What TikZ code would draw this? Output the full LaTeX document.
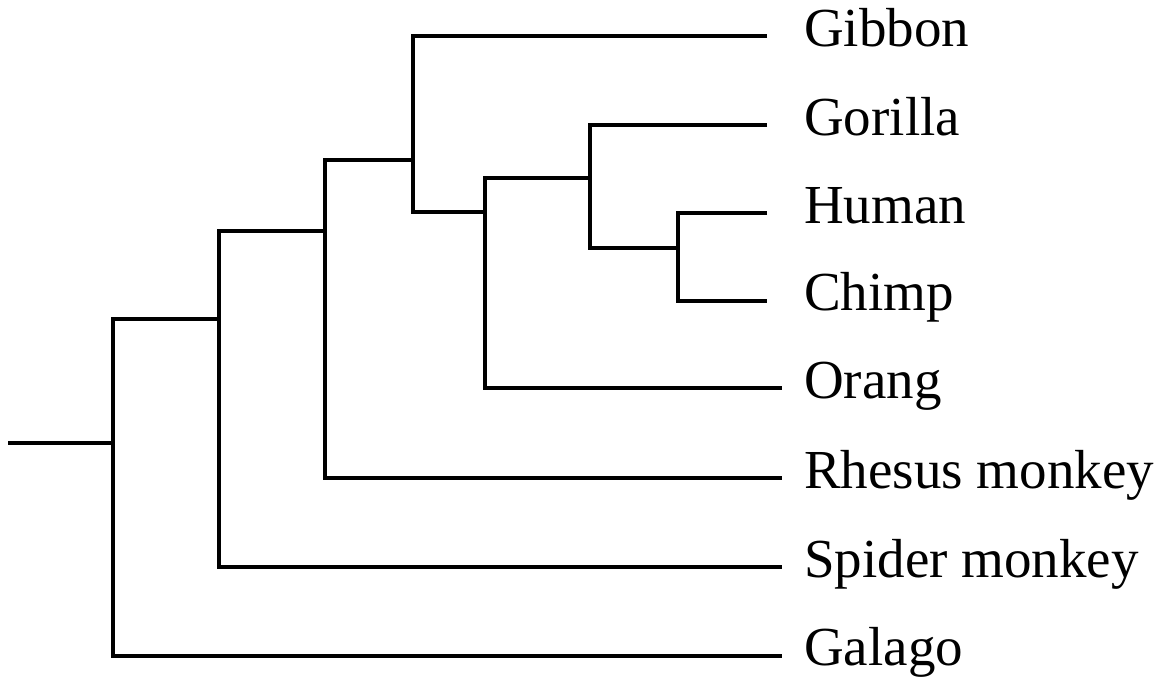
\documentclass[tikz,border=0pt]{standalone}
\usepackage{fontspec}
\setmainfont{Liberation Serif}
\begin{document}
\begin{tikzpicture}[x=1pt,y=-1pt,
  branch/.style={line width=3.5pt, line join=miter, line cap=butt},
  taxon/.style={anchor=base west, inner sep=0pt, font=\fontsize{55}{60}\selectfont}]
\useasboundingbox (0,0) rectangle (1159,677);

% internal nodes: x of the vertical bar, y of the incoming branch
\coordinate (stub) at (8,443);
\coordinate (n1) at (113,443);
\coordinate (n2) at (219,319);
\coordinate (n3) at (325,231);
\coordinate (n4) at (413,160);
\coordinate (n5) at (485,212);
\coordinate (n6) at (590,178);
\coordinate (n7) at (678,248);

% leaf tips
\coordinate (tGibbon) at (767,36);
\coordinate (tGorilla) at (767,125);
\coordinate (tHuman) at (767,213);
\coordinate (tChimp) at (767,301);
\coordinate (tOrang) at (782,388);
\coordinate (tRhesus) at (782,478);
\coordinate (tSpider) at (782,567);
\coordinate (tGalago) at (782,656);

% taxon labels
\node[taxon] (lGibbon) at (804,47) {Gibbon};
\node[taxon] (lGorilla) at (804,135) {Gorilla};
\node[taxon] (lHuman) at (804,223) {Human};
\node[taxon] (lChimp) at (804,310) {Chimp};
\node[taxon] (lOrang) at (804,398) {Orang};
\node[taxon] (lRhesus) at (804,488) {Rhesus monkey};
\node[taxon] (lSpider) at (804,577) {Spider monkey};
\node[taxon] (lGalago) at (804,665) {Galago};

% branches
\draw[branch] (stub) -- (n1);
\draw[branch] (n2) -| (n1) |- (tGalago);
\draw[branch] (n3) -| (n2) |- (tSpider);
\draw[branch] (n4) -| (n3) |- (tRhesus);
\draw[branch] (tGibbon) -| (n4) |- (n5);
\draw[branch] (n6) -| (n5) |- (tOrang);
\draw[branch] (tGorilla) -| (n6) |- (n7);
\draw[branch] (tHuman) -| (n7) |- (tChimp);
\end{tikzpicture}
\end{document}
